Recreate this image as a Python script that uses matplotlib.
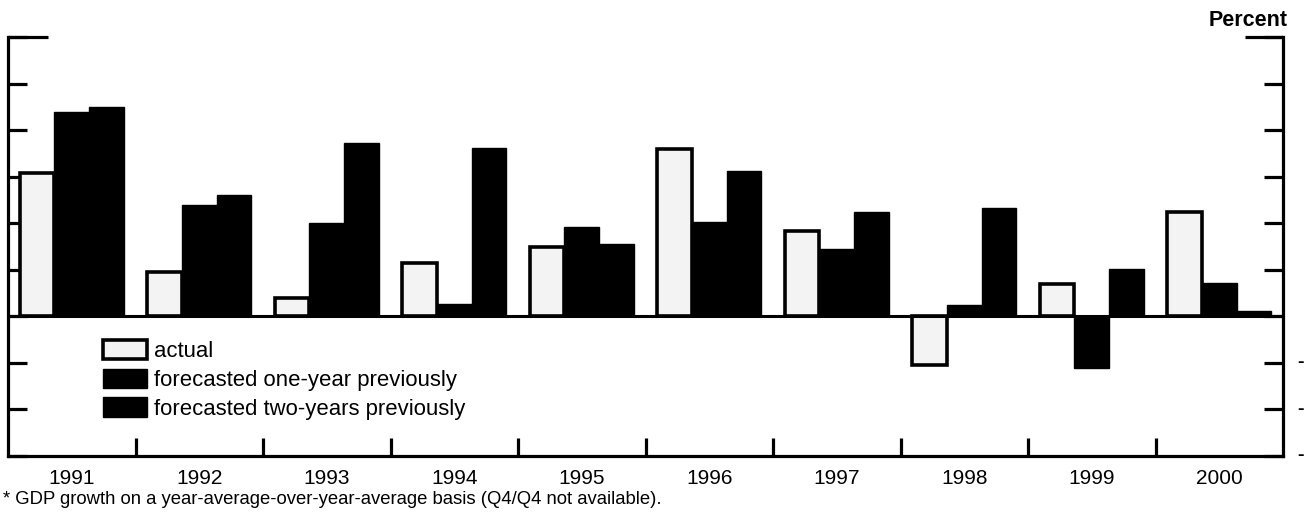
import matplotlib
matplotlib.use('Agg')
import matplotlib.pyplot as plt
import numpy as np
from matplotlib.patches import Patch
from matplotlib.lines import Line2D

# ---- data (percent) ----
years = ['1991', '1992', '1993', '1994', '1995', '1996', '1997', '1998', '1999', '2000']
actual = [3.08, 0.95, 0.39, 1.14, 1.49, 3.59, 1.83, -1.05, 0.69, 2.24]
forecast_one_year = [4.39, 2.39, 2.00, 0.26, 1.92, 2.03, 1.44, 0.24, -1.11, 0.71]
forecast_two_years = [4.50, 2.60, 3.72, 3.62, 1.55, 3.12, 2.24, 2.33, 1.02, 0.11]
series_labels = ['actual', 'forecasted one-year previously', 'forecasted two-years previously']
y_ticks = [-3, -2, -1, 0, 1, 2, 3, 4, 5, 6]
negative_fragments = [-1, -2, -3]
unit_label = 'Percent'
footnote = '* GDP growth on a year-average-over-year-average basis (Q4/Q4 not available).'

plt.rcParams['font.family'] = ['Liberation Sans', 'DejaVu Sans']

W, H = 1304, 512
fig = plt.figure(figsize=(W / 100, H / 100), dpi=100)
ax_l, ax_b, ax_w, ax_h = 8, 56, 1275, 419
ax = fig.add_axes([ax_l / W, ax_b / H, ax_w / W, ax_h / H])

x = np.arange(len(years))
w = 0.272
actual_color = '#f3f3f3'
fc_color = '#000000'

ax.bar(x - w, actual, w, color=actual_color, edgecolor='black', linewidth=2.6, zorder=3)
ax.bar(x, forecast_one_year, w, color=fc_color, edgecolor='black', linewidth=1, zorder=3)
ax.bar(x + w, forecast_two_years, w, color=fc_color, edgecolor='black', linewidth=1, zorder=3)

ax.axhline(0, color='black', linewidth=2.2, zorder=4)

ax.set_xlim(-0.5, len(years) - 0.5)
ax.set_ylim(min(y_ticks), max(y_ticks))

for s in ['left', 'right', 'bottom']:
    ax.spines[s].set_linewidth(2.3)
ax.spines['top'].set_visible(False)

ax.set_yticks(y_ticks)
ax.tick_params(axis='y', which='major', direction='in', length=14, width=2.3,
               left=True, right=True, labelleft=False, labelright=False)

ax.set_xticks(x)
ax.set_xticklabels(years, fontsize=15)
ax.set_xticks(x[:-1] + 0.5, minor=True)
ax.tick_params(axis='x', which='major', length=0, pad=9)
ax.tick_params(axis='x', which='minor', direction='in', length=13, width=2.3)

# longer top tick marks
ax.add_line(Line2D([0, 40 / ax_w], [1, 1], transform=ax.transAxes, color='black',
                   linewidth=2.3, clip_on=False, solid_capstyle='butt'))
ax.add_line(Line2D([1 - 38 / ax_w, 1], [1, 1], transform=ax.transAxes, color='black',
                   linewidth=2.3, clip_on=False, solid_capstyle='butt'))

handles = [Patch(facecolor=actual_color, edgecolor='black', linewidth=2.6),
           Patch(facecolor=fc_color, edgecolor='black'),
           Patch(facecolor=fc_color, edgecolor='black')]
ax.legend(handles, series_labels, loc='upper left', bbox_to_anchor=((103 - ax_l) / ax_w, (456 - 340) / ax_h),
          frameon=False, fontsize=15.9, handlelength=2.0, handleheight=0.95,
          handletextpad=0.3, labelspacing=0.3, borderpad=0, borderaxespad=0)

fig.text(1288 / W, (H - 26) / H, unit_label, ha='right', va='baseline', fontsize=15.5, fontweight='bold')
fig.text(3 / W, (H - 504) / H, footnote, ha='left', va='baseline', fontsize=13.3)

# fragments of cropped right-hand negative labels
for v in negative_fragments:
    ypix = ax_b + (v - min(y_ticks)) / (max(y_ticks) - min(y_ticks)) * ax_h
    fig.text(1297 / W, ypix / H, '-', ha='left', va='center', fontsize=14, fontweight='bold')

fig.savefig('out.png', dpi=100)
